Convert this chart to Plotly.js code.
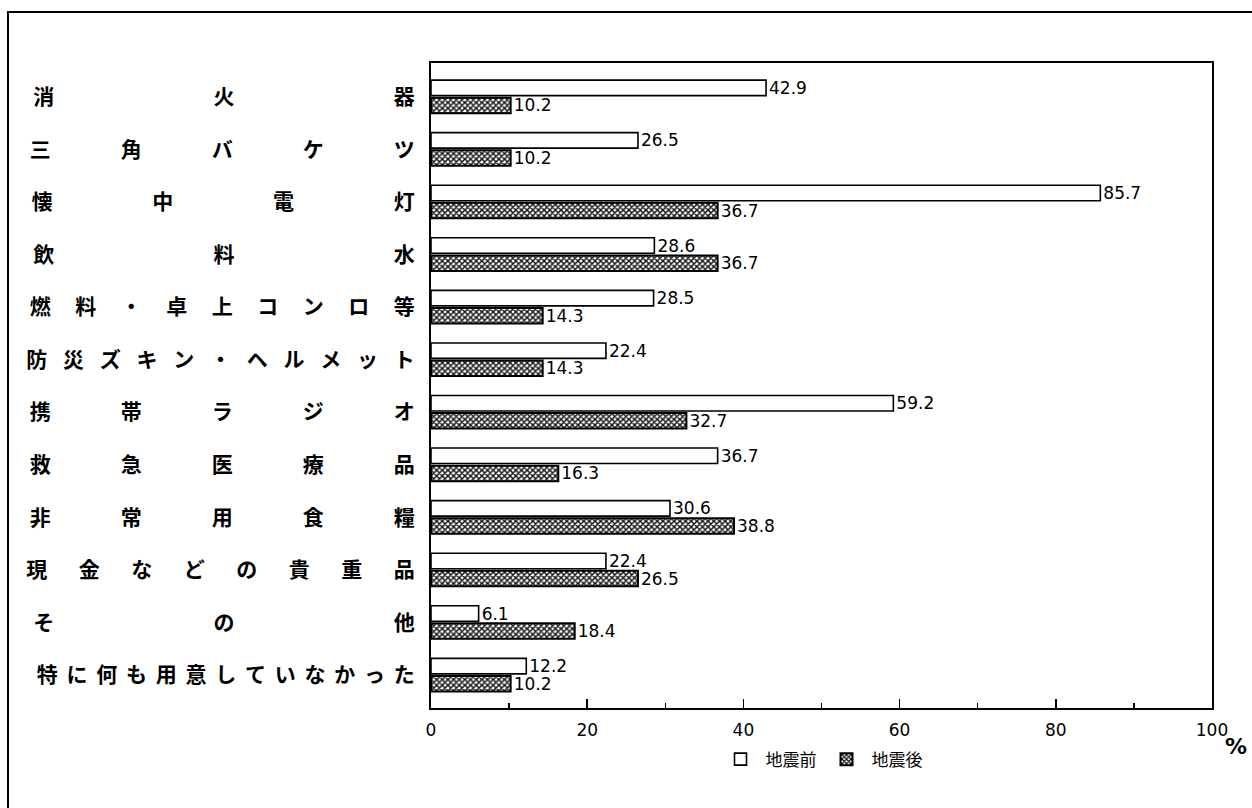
<!DOCTYPE html>
<html>
<head>
<meta charset="utf-8">
<script src="https://cdn.plot.ly/plotly-3.0.1.min.js"></script>
<style>
  html, body { margin:0; padding:0; width:1252px; height:808px; overflow:hidden; background:#fff; }
  #frame { position:absolute; left:7px; top:11px; width:1270px; height:830px; border:2px solid #000; box-sizing:border-box; }
  #chart { position:absolute; left:0; top:0; width:1252px; height:808px; }
</style>
</head>
<body>
<div id="frame"></div>
<div id="chart"></div>
<script>
// ---- data ----
const categories = [
  "消火器",
  "三角バケツ",
  "懐中電灯",
  "飲料水",
  "燃料・卓上コンロ等",
  "防災ズキン・ヘルメット",
  "携帯ラジオ",
  "救急医療品",
  "非常用食糧",
  "現金などの貴重品",
  "その他",
  "特に何も用意していなかった"
];
const before = [42.9, 26.5, 85.7, 28.6, 28.5, 22.4, 59.2, 36.7, 30.6, 22.4, 6.1, 12.2];
const after  = [10.2, 10.2, 36.7, 36.7, 14.3, 14.3, 32.7, 16.3, 38.8, 26.5, 18.4, 10.2];
const seriesNames = ["地震前", "地震後"];
const xTickVals = [0, 20, 40, 60, 80, 100];

// ---- distributed (justified) category labels ----
const LABEL_FONT = 21;
const LABEL_SPAN = 362; // distance between first and last character centres
// fractional em spaces: 1/3, 1/4, 1/6 em
const FRAC = [
  [0, ""], [1/6, "\u2006"], [1/4, "\u2005"], [1/3, "\u2004"],
  [5/12, "\u2005\u2006"], [1/2, "\u2004\u2006"], [7/12, "\u2004\u2005"],
  [2/3, "\u2004\u2004"], [3/4, "\u2005\u2005\u2005"],
  [5/6, "\u2004\u2004\u2006"], [11/12, "\u2004\u2005\u2004"], [1, "\u3000"]
];
function spread(label) {
  const chars = Array.from(label);
  const n = chars.length;
  if (n < 2) return label;
  const step = LABEL_SPAN / (n - 1);
  const gapEm = (step - LABEL_FONT) / LABEL_FONT;
  const full = Math.floor(gapEm);
  const rem = gapEm - full;
  let best = FRAC[0];
  FRAC.forEach(f => { if (Math.abs(f[0] - rem) < Math.abs(best[0] - rem)) best = f; });
  const gap = "\u3000".repeat(full) + best[1];
  return chars.join(gap);
}
const tickText = categories.map(spread);

const numFont = {family: "Liberation Sans Narrow, DejaVu Sans, sans-serif", size: 17, color: "#000"};

const traces = [
  {
    type: "bar", orientation: "h", name: seriesNames[0],
    y: categories, x: before,
    text: before.map(v => v.toFixed(1)), textposition: "outside",
    textfont: numFont, cliponaxis: false, constraintext: "none",
    marker: {color: "#ffffff", line: {color: "#000", width: 1.6}},
    hoverinfo: "x+y"
  },
  {
    type: "bar", orientation: "h", name: seriesNames[1],
    y: categories, x: after,
    text: after.map(v => v.toFixed(1)), textposition: "outside",
    textfont: numFont, cliponaxis: false, constraintext: "none",
    marker: {
      color: "#ffffff",
      line: {color: "#000", width: 2},
      pattern: {shape: "x", size: 4, solidity: 0.6, fgcolor: "#111", bgcolor: "#ffffff"}
    },
    hoverinfo: "x+y"
  }
];

const layout = {
  width: 1252, height: 808,
  margin: {l: 431, r: 40, t: 63, b: 100},
  paper_bgcolor: "rgba(0,0,0,0)",
  plot_bgcolor: "#ffffff",
  barmode: "group",
  bargap: 0.33,
  bargroupgap: 0.12,
  showlegend: true,
  legend: {
    orientation: "h", x: 0.5, xanchor: "center", y: -0.08, yanchor: "middle",
    font: {family: "Noto Sans CJK JP", size: 17, color: "#000"},
    traceorder: "normal", itemwidth: 40
  },
  xaxis: {
    range: [0, 100],
    tickvals: xTickVals,
    ticks: "inside", ticklen: 9, tickwidth: 1.5, tickcolor: "#000",
    minor: {dtick: 10, ticks: "inside", ticklen: 5, tickwidth: 1.5, tickcolor: "#000"},
    showgrid: false, zeroline: false,
    showline: true, mirror: true, linecolor: "#000", linewidth: 2,
    tickfont: {family: "Liberation Sans Narrow, DejaVu Sans, sans-serif", size: 17, color: "#000"},
    ticklabelstandoff: 6
  },
  yaxis: {
    type: "category",
    range: [11.63, -0.64],
    tickvals: categories, ticktext: tickText,
    ticks: "", showgrid: false, zeroline: false,
    showline: true, mirror: true, linecolor: "#000", linewidth: 2,
    tickfont: {family: "Noto Sans CJK JP", size: LABEL_FONT, color: "#000", weight: "bold"},
    ticklabelstandoff: 10
  },
  annotations: [
    {xref: "paper", yref: "paper", x: 1.047, xanchor: "right", y: -0.06, yanchor: "middle",
     text: "%", showarrow: false,
     font: {family: "DejaVu Sans", size: 22, color: "#000", weight: "bold"}}
  ]
};

Plotly.newPlot("chart", traces, layout, {displayModeBar: false, staticPlot: true});
</script>
</body>
</html>
